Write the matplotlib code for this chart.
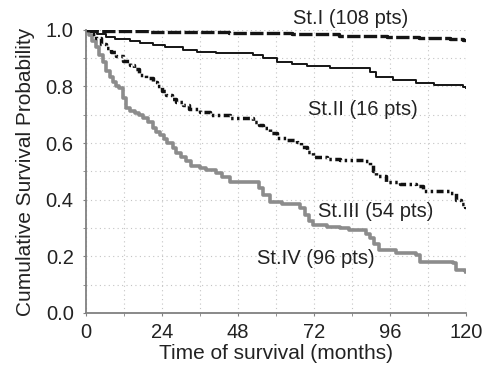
import matplotlib
matplotlib.use("Agg")
import matplotlib.pyplot as plt
from matplotlib.ticker import MultipleLocator, FormatStrFormatter

plt.rcParams['font.family'] = ['Liberation Sans', 'DejaVu Sans']

# St.I (108 pts)
t1 = [0, 3, 20, 45, 65, 80, 95, 105, 115, 119, 120]
s1 = [1.0, 0.997, 0.994, 0.99, 0.985, 0.98, 0.976, 0.972, 0.968, 0.965, 0.965]

# St.II (16 pts)
t2 = [0, 1.6, 3.5, 6.3, 9, 13.7, 17, 21, 25, 30.5, 35, 41, 52.8, 56, 60.2, 65, 69.7,
      77, 89.5, 91.6, 96.9, 104.2, 110, 119, 120]
s2 = [1.0, 0.994, 0.985, 0.976, 0.967, 0.959, 0.953, 0.947, 0.94, 0.929, 0.923, 0.918,
      0.912, 0.9, 0.888, 0.88, 0.871, 0.865, 0.85, 0.835, 0.823, 0.812, 0.806, 0.797, 0.794]

# St.III (54 pts)
t3 = [0, 1.5, 3.2, 4.7, 6.3, 8, 9.5, 11.5, 13.7, 15.2, 16.8, 19, 21, 22.5, 24, 25.3, 27,
      28.5, 30.5, 32.5, 35.8, 39.2, 45.5, 52.8, 54.5, 56, 58, 60.2, 63, 66.5, 68, 69.7,
      71.8, 76, 80.2, 88, 89.5, 90.5, 91.6, 94.7, 99, 104.2, 106.3, 114.7, 116.8, 118.5,
      119.7, 120]
s3 = [1.0, 0.985, 0.97, 0.95, 0.935, 0.92, 0.906, 0.89, 0.876, 0.86, 0.841, 0.83, 0.817,
      0.80, 0.785, 0.77, 0.755, 0.745, 0.735, 0.722, 0.709, 0.70, 0.688, 0.676, 0.665,
      0.652, 0.635, 0.617, 0.61, 0.605, 0.585, 0.57, 0.552, 0.545, 0.54, 0.535, 0.523,
      0.50, 0.482, 0.464, 0.455, 0.447, 0.429, 0.422, 0.40, 0.385, 0.375, 0.37]

# St.IV (96 pts)
t4 = [0, 1, 2, 3, 4.2, 5.2, 6.3, 7.5, 8.5, 9.5, 10.5, 11.5, 12.6, 14, 15.5, 16.8, 18,
      19.5, 21, 22, 23.2, 24.5, 25.5, 27.4, 28.5, 30, 31.6, 33, 35.8, 38, 41, 43, 45.5,
      52.8, 54.5, 56, 58.1, 62, 67.6, 69, 70.5, 71.8, 76, 80.2, 83, 88.5, 89.5, 91, 92.6,
      98, 104.2, 105.3, 115.8, 116.8, 119.5, 120]
s4 = [1.0, 0.982, 0.96, 0.94, 0.912, 0.885, 0.853, 0.835, 0.815, 0.80, 0.794, 0.76, 0.723,
      0.715, 0.705, 0.70, 0.688, 0.676, 0.655, 0.64, 0.629, 0.615, 0.60, 0.582, 0.565,
      0.55, 0.535, 0.52, 0.511, 0.505, 0.494, 0.48, 0.464, 0.464, 0.44, 0.415, 0.393,
      0.385, 0.37, 0.345, 0.325, 0.311, 0.305, 0.299, 0.293, 0.28, 0.264, 0.245, 0.223,
      0.21, 0.205, 0.181, 0.176, 0.152, 0.147, 0.145]

labels = ["St.I (108 pts)", "St.II (16 pts)", "St.III (54 pts)", "St.IV (96 pts)"]
x_ticks = [0, 24, 48, 72, 96, 120]
y_ticks = [0.0, 0.2, 0.4, 0.6, 0.8, 1.0]

fig = plt.figure(figsize=(4.84, 3.73), dpi=100)
ax = fig.add_axes([0.178, 0.161, 0.785, 0.759])

ax.plot(t4, s4, drawstyle='steps-post', color='#8c8c8c', lw=2.6)
ax.plot(t3, s3, drawstyle='steps-post', color='#111111', lw=2.5,
        linestyle=(0, (2.0, 1.0, 0.7, 1.0, 0.7, 1.0)))
ax.plot(t2, s2, drawstyle='steps-post', color='#151515', lw=1.4)
ax.plot(t1, s1, drawstyle='steps-post', color='#151515', lw=2.4,
        linestyle=(0, (4, 1)))

ax.set_xlim(0, 120)
ax.set_ylim(0, 1.0)
ax.set_xticks(x_ticks)
ax.set_yticks(y_ticks)
ax.xaxis.set_minor_locator(MultipleLocator(12))
ax.yaxis.set_minor_locator(MultipleLocator(0.1))
ax.yaxis.set_major_formatter(FormatStrFormatter('%.1f'))
ax.grid(True, which='both', linestyle=(0, (1, 3)), color='#c4c4c4', lw=0.8)
ax.set_axisbelow(True)
for s in ['top', 'right']:
    ax.spines[s].set_visible(False)
for s in ['left', 'bottom']:
    ax.spines[s].set_color('#808080')
    ax.spines[s].set_linewidth(1.3)
ax.tick_params(which='both', length=2, color='#808080', labelsize=14.5,
               labelcolor='#222222')
ax.tick_params(axis='y', pad=7)
ax.tick_params(axis='x', pad=5)

ax.set_xlabel("Time of survival (months)", fontsize=15, color='#222222', labelpad=2)
ax.set_ylabel("Cumulative Survival Probability", fontsize=15, color='#222222', labelpad=8)

tc = '#222222'
ax.text(83.5, 1.04, labels[0], ha='center', va='center', fontsize=14.5, color=tc, clip_on=False)
ax.text(87.5, 0.72, labels[1], ha='center', va='center', fontsize=14.5, color=tc)
ax.text(91.6, 0.357, labels[2], ha='center', va='center', fontsize=14.5, color=tc)
ax.text(72.6, 0.194, labels[3], ha='center', va='center', fontsize=14.5, color=tc)

fig.savefig("out.png", dpi=100)
